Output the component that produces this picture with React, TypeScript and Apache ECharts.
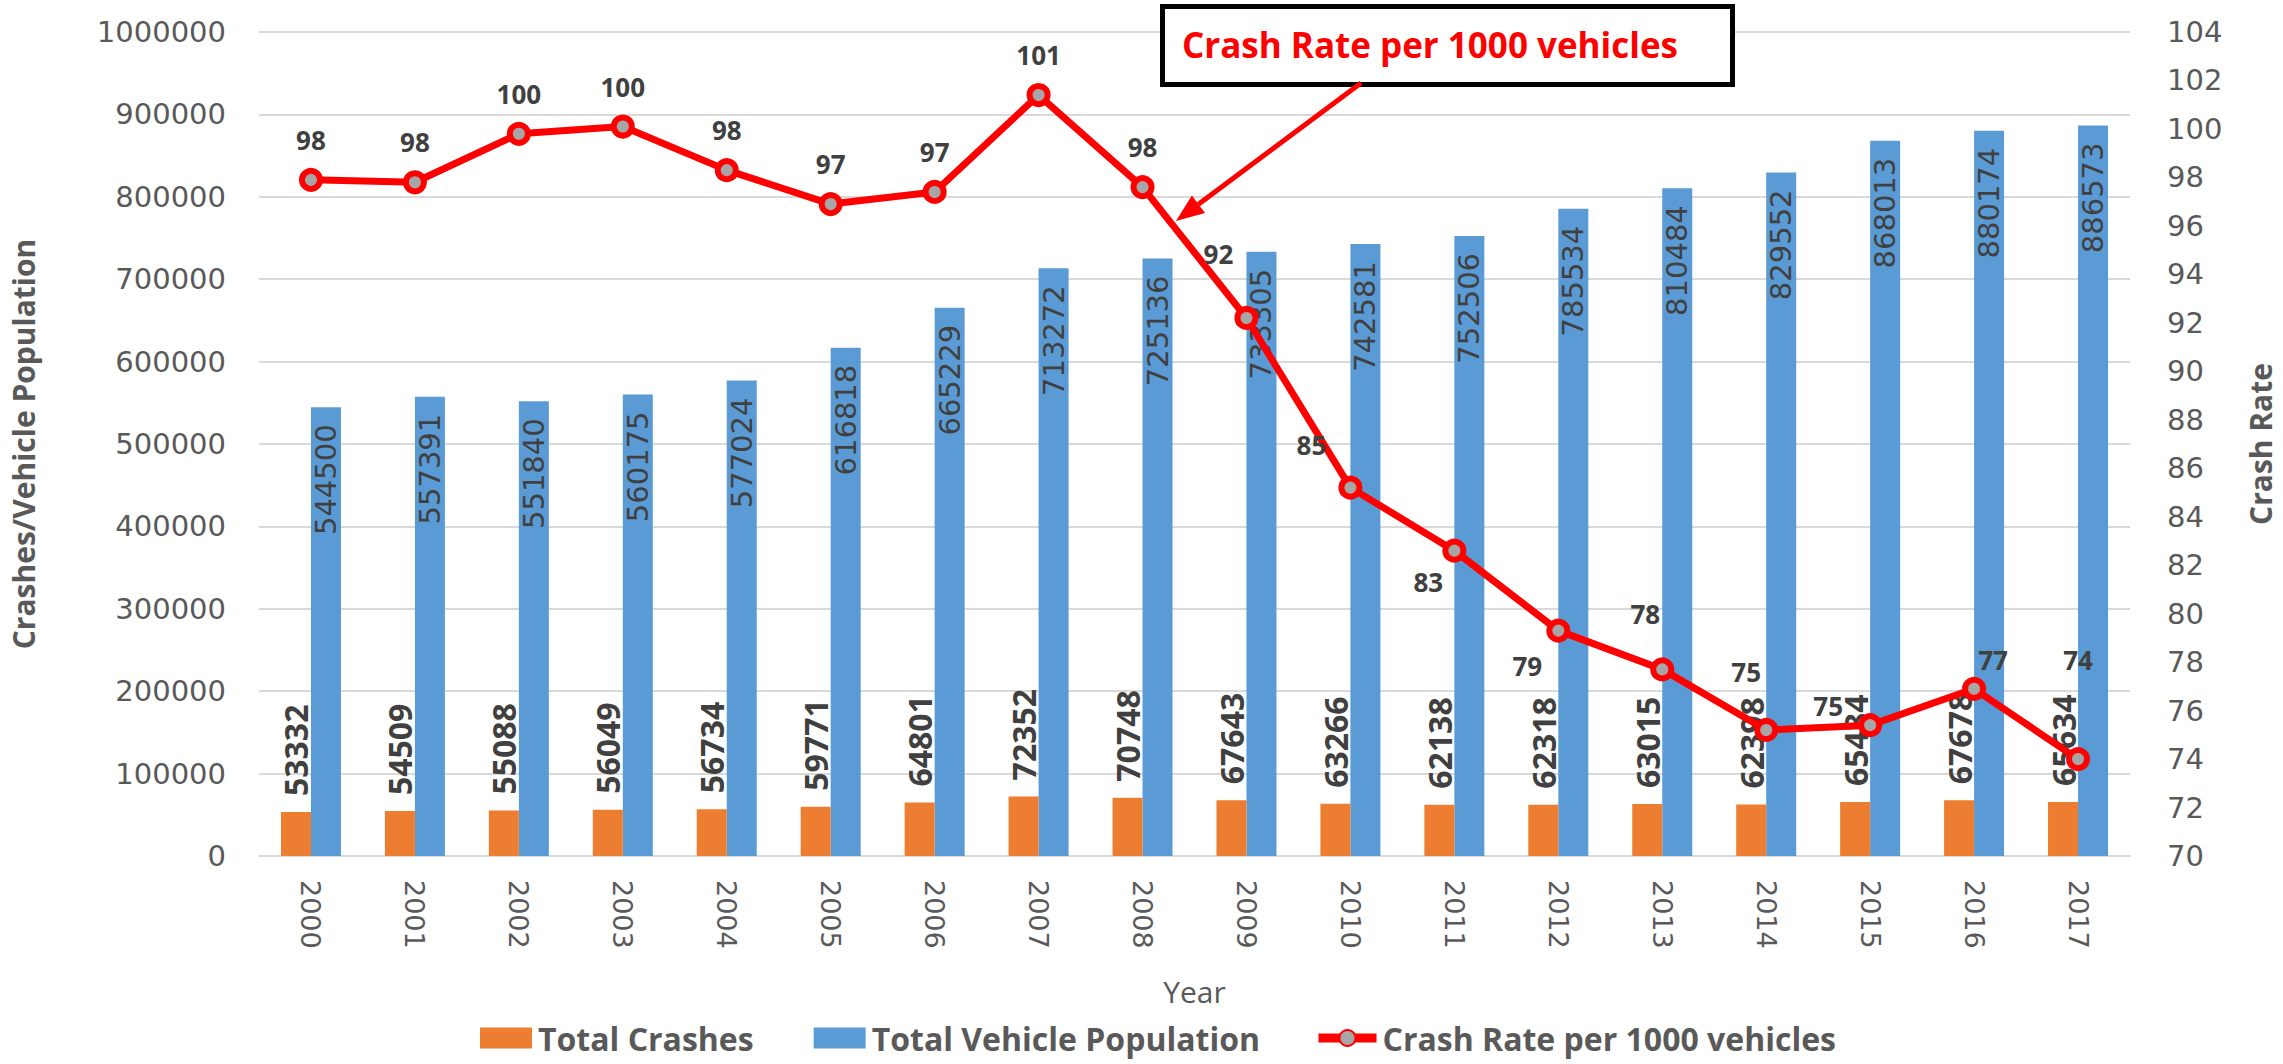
import React, { useEffect, useRef } from "react";
import * as echarts from "echarts";

const years = ["2000","2001","2002","2003","2004","2005","2006","2007","2008","2009","2010","2011","2012","2013","2014","2015","2016","2017"];
const totalCrashes = [53332,54509,55088,56049,56734,59771,64801,72352,70748,67643,63266,62138,62318,63015,62398,65484,67678,65634];
const vehiclePopulation = [544500,557391,551840,560175,577024,616818,665229,713272,725136,733305,742581,752506,785534,810484,829552,868013,880174,886573];
const crashRate = [97.9,97.8,99.8,100.1,98.3,96.9,97.4,101.4,97.6,92.2,85.2,82.6,79.3,77.7,75.2,75.4,76.9,74.0];
// label placement tweaks (style, not data)
const rateLabelOffsets: number[][] = [[0,0],[0,0],[0,0],[0,0],[0,0],[0,0],[0,0],[0,0],[0,0],[-28,-24],[-39,-3],[-26,71],[-31,75],[-17,-15],[-20,-18],[-42,21],[19,11],[0,-59]];

const GRAY = "#595959";
const DARK = "#404040";
const SANS = "'Open Sans', sans-serif";
const VERD = "'DejaVu Sans', sans-serif";

export default function App() {
  const ref = useRef<HTMLDivElement>(null);
  useEffect(() => {
    document.body.style.margin = "0";
    const chart = echarts.init(ref.current!, null, { renderer: "svg" });
    // arrow geometry
    const ax0 = 1361, ay0 = 83, ax1 = 1176, ay1 = 221;
    const dx = ax1 - ax0, dy = ay1 - ay0;
    const len = Math.sqrt(dx * dx + dy * dy);
    const ux = dx / len, uy = dy / len;
    const hl = 28, hw = 11;
    const bx = ax1 - hl * ux, by = ay1 - hl * uy;
    const px = -uy, py = ux;
    const legendText = { fontFamily: SANS, fontWeight: "bold", fontSize: 32, color: GRAY, padding: [0, 0, 0, 1] };
    chart.setOption({
      animation: false,
      backgroundColor: "#ffffff",
      grid: { left: 253, right: 148, top: 32, bottom: 208 },
      legend: [
        {
          data: [
            { name: "Total Crashes", icon: "rect" },
            { name: "Total Vehicle Population", icon: "rect" },
          ],
          left: 475, top: 1017, itemWidth: 52, itemHeight: 21, itemGap: 60,
          textStyle: legendText,
        },
        {
          data: ["Crash Rate per 1000 vehicles"],
          left: 1309, top: 1017, itemWidth: 58, itemHeight: 20,
          lineStyle: { width: 9 },
          textStyle: legendText,
        },
      ],
      xAxis: {
        type: "category",
        data: years,
        name: "Year",
        nameLocation: "middle",
        nameGap: 120,
        nameTextStyle: { fontFamily: SANS, fontSize: 30, color: GRAY },
        axisLine: { lineStyle: { color: "#D9D9D9", width: 2 } },
        axisTick: { show: false },
        axisLabel: { rotate: -90, margin: 24, fontFamily: VERD, fontSize: 27, color: GRAY },
      },
      yAxis: [
        {
          type: "value", min: 0, max: 1000000, interval: 100000,
          name: "Crashes/Vehicle Population",
          nameLocation: "middle", nameGap: 221,
          nameTextStyle: { fontFamily: SANS, fontWeight: "bold", fontSize: 30, color: GRAY },
          axisLine: { show: false }, axisTick: { show: false },
          axisLabel: { margin: 33, fontFamily: VERD, fontSize: 29, color: GRAY, formatter: (v: number) => String(v) },
          splitLine: { lineStyle: { color: "#D9D9D9", width: 2 } },
        },
        {
          type: "value", min: 70, max: 104, interval: 2,
          name: "Crash Rate",
          nameLocation: "middle", nameGap: 115,
          nameTextStyle: { fontFamily: SANS, fontWeight: "bold", fontSize: 30, color: GRAY },
          axisLine: { show: false }, axisTick: { show: false },
          axisLabel: { margin: 37, fontFamily: VERD, fontSize: 29, color: GRAY, formatter: (v: number) => String(v) },
          splitLine: { show: false },
        },
      ],
      series: [
        {
          name: "Total Crashes", type: "bar", data: totalCrashes,
          barWidth: 30, barGap: "0%",
          itemStyle: { color: "#ED7D31" },
          label: {
            show: true, position: "top", rotate: 90, distance: 16,
            align: "left", verticalAlign: "middle",
            fontFamily: SANS, fontWeight: "bold", fontSize: 32, color: DARK,
          },
          z: 3,
        },
        {
          name: "Total Vehicle Population", type: "bar", data: vehiclePopulation,
          barWidth: 30,
          itemStyle: { color: "#5B9BD5" },
          label: {
            show: true, position: "insideTop", rotate: 90, distance: 17,
            align: "right", verticalAlign: "middle",
            fontFamily: VERD, fontSize: 29, color: DARK,
          },
          z: 2,
        },
        {
          name: "Crash Rate per 1000 vehicles", type: "line", yAxisIndex: 1,
          data: crashRate.map((v, i) => ({ value: v, label: { offset: rateLabelOffsets[i] } })),
          lineStyle: { color: "#FF0000", width: 7 },
          itemStyle: { color: "#A6A6A6", borderColor: "#FF0000", borderWidth: 6 },
          symbol: "circle", symbolSize: 18, showAllSymbol: true,
          label: {
            show: true, position: "top", distance: 15,
            formatter: (p: any) => String(Math.round(p.value)),
            fontFamily: SANS, fontWeight: "bold", fontSize: 26, color: DARK,
          },
          z: 5,
        },
      ],
      graphic: [
        {
          type: "rect", left: 1160, top: 4, z: 100,
          shape: { width: 570, height: 78 },
          style: { fill: "#ffffff", stroke: "#000000", lineWidth: 5 },
        },
        {
          type: "text", x: 1182, y: 44, z: 101,
          style: {
            text: "Crash Rate per 1000 vehicles", fill: "#FF0000",
            font: "bold 35px 'Open Sans', sans-serif", verticalAlign: "middle", align: "left",
          },
        },
        {
          type: "line", z: 100,
          shape: { x1: ax0, y1: ay0, x2: bx, y2: by },
          style: { stroke: "#FF0000", lineWidth: 5 },
        },
        {
          type: "polygon", z: 100,
          shape: { points: [[ax1, ay1], [bx + hw * px, by + hw * py], [bx - hw * px, by - hw * py]] },
          style: { fill: "#FF0000" },
        },
      ],
    });
    return () => chart.dispose();
  }, []);
  return <div ref={ref} style={{ width: 2283, height: 1064 }} />;
}
